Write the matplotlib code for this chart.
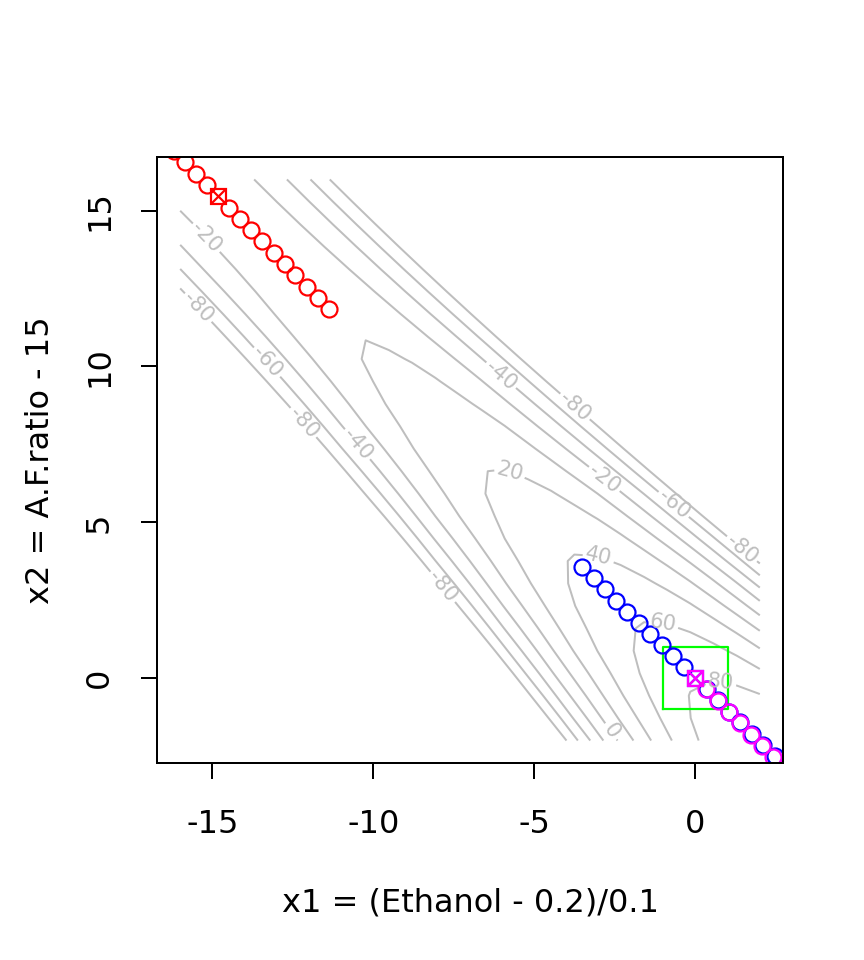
import numpy as np
import matplotlib
matplotlib.use("Agg")
import matplotlib.pyplot as plt

plt.rcParams['axes.unicode_minus'] = False
plt.rcParams['font.family'] = ['DejaVu Sans']
plt.rcParams['contour.negative_linestyle'] = 'solid'

# ---- fitted second-order surface (canonical form) ----
stationary_point = [-14.82, 15.46]
stationary_value = -7.5
eigenvalues = [0.189, -8.7]
ridge_axis = [0.687, -0.727]

x1_bounds = [-16, 2]
x2_bounds = [-2, 16]
grid_points = 26
contour_levels = [-80, -60, -40, -20, 0, 20, 40, 60, 80]

# ---- design region ----
design_x1 = [-1, 1, 1, -1, -1]
design_x2 = [-1, -1, 1, 1, -1]

# ---- paths ----
red_x1 = [-18.26, -17.91, -17.57, -17.22, -16.88, -16.54, -16.19, -15.85, -15.51, -15.16,
          -14.48, -14.13, -13.79, -13.45, -13.10, -12.76, -12.42, -12.07, -11.73, -11.39]
red_x2 = [19.10, 18.73, 18.37, 18.00, 17.64, 17.28, 16.91, 16.55, 16.19, 15.82,
          15.10, 14.73, 14.37, 14.01, 13.64, 13.28, 12.92, 12.55, 12.19, 11.83]
red_center = [-14.82, 15.46]

blue_x1 = [-3.51, -3.16, -2.81, -2.46, -2.11, -1.76, -1.40, -1.05, -0.70, -0.35,
           0.35, 0.70, 1.05, 1.40, 1.76, 2.11, 2.46, 2.81, 3.16, 3.51]
blue_x2 = [3.56, 3.20, 2.85, 2.49, 2.14, 1.78, 1.42, 1.07, 0.71, 0.36,
           -0.36, -0.71, -1.07, -1.42, -1.78, -2.14, -2.49, -2.85, -3.20, -3.56]
blue_center = [0.0, 0.0]

magenta_x1 = [0.34, 0.69, 1.03, 1.37, 1.72, 2.06, 2.40, 2.75, 3.09, 3.44]
magenta_x2 = [-0.36, -0.73, -1.09, -1.45, -1.82, -2.18, -2.54, -2.91, -3.27, -3.64]
magenta_center = [0.0, 0.0]

# contour label anchor spots (as placed in the reference)
label_spots = [(-6.09, 9.65), (-3.76, 8.69), (-2.89, 6.31), (-0.75, 5.48), (1.43, 4.13),
               (-15.25, 14.07), (-15.50, 11.83), (-13.39, 10.06), (-12.24, 8.14),
               (-10.50, 7.50), (-7.86, 2.92),
               (-5.84, 6.44), (-3.04, 3.81), (-1.02, 1.68), (0.75, -0.25), (-2.52, -1.63)]

# ---- build surface ----
g1 = np.linspace(x1_bounds[0], x1_bounds[1], grid_points)
g2 = np.linspace(x2_bounds[0], x2_bounds[1], grid_points)
X1, X2 = np.meshgrid(g1, g2)
e1 = np.array(ridge_axis)
e2 = np.array([-e1[1], e1[0]])
D1 = X1 - stationary_point[0]
D2 = X2 - stationary_point[1]
W1 = D1 * e1[0] + D2 * e1[1]
W2 = D1 * e2[0] + D2 * e2[1]
Z = stationary_value + eigenvalues[0] * W1 ** 2 + eigenvalues[1] * W2 ** 2

W, H = 864, 960
fig = plt.figure(figsize=(W / 144, H / 144), dpi=144)
ax = fig.add_axes([157 / W, 1 - 763 / H, (783 - 157) / W, (763 - 157) / H])

gray = '#BEBEBE'
cs = ax.contour(X1, X2, Z, levels=contour_levels, colors=gray, linewidths=1.0,
                linestyles='solid')
ax.clabel(cs, fmt=lambda v: f"{v:.0f}", fontsize=10.5, colors=gray, inline=True,
          inline_spacing=4, manual=label_spots)

ax.plot(design_x1, design_x2, color='#00FF00', lw=1.1)

def path(xs, ys, cx, cy, col):
    ax.plot(xs, ys, linestyle='none', marker='o', ms=8, mfc='none', mec=col, mew=1.1)
    ax.plot([cx], [cy], linestyle='none', marker='s', ms=7.5, mfc='none', mec=col, mew=1.1)
    ax.plot([cx], [cy], linestyle='none', marker='x', ms=7.5, mec=col, mew=1.1)

path(red_x1, red_x2, red_center[0], red_center[1], '#FF0000')
path(blue_x1, blue_x2, blue_center[0], blue_center[1], '#0000FF')
path(magenta_x1, magenta_x2, magenta_center[0], magenta_center[1], '#FF00FF')

span1 = x1_bounds[1] - x1_bounds[0]
span2 = x2_bounds[1] - x2_bounds[0]
ax.set_xlim(x1_bounds[0] - 0.04 * span1, x1_bounds[1] + 0.04 * span1)
ax.set_ylim(x2_bounds[0] - 0.04 * span2, x2_bounds[1] + 0.04 * span2)
ax.set_xticks([-15, -10, -5, 0])
ax.set_yticks([0, 5, 10, 15])
for s in ax.spines.values():
    s.set_linewidth(1.0)
ax.tick_params(direction='out', length=8, width=1.0, labelsize=16, pad=12)
ax.tick_params(axis='x', pad=15)
ax.tick_params(axis='y', labelrotation=90, pad=13)
for lab in ax.get_yticklabels():
    lab.set_va('center')
ax.set_xlabel('x1 = (Ethanol - 0.2)/0.1', fontsize=16, labelpad=24)
ax.set_ylabel('x2 = A.F.ratio - 15', fontsize=16, labelpad=14)

fig.savefig('out.png', dpi=144)
